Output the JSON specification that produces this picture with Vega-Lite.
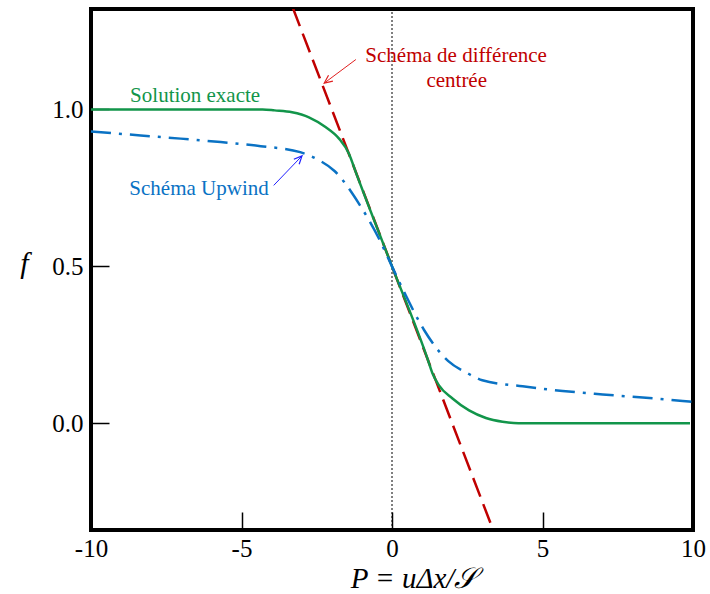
{
  "$schema": "https://vega.github.io/schema/vega-lite/v6.json",
  "width": 602,
  "height": 521,
  "autosize": {"type": "none"},
  "padding": {"left": 91, "top": 9, "right": 17, "bottom": 64},
  "background": "white",
  "config": {
    "view": {"stroke": "black", "strokeWidth": 4},
    "font": "Liberation Serif",
    "axis": {"grid": false, "domain": false, "labelFont": "Liberation Serif", "titleFont": "Liberation Serif", "labelColor": "black", "titleColor": "black", "tickColor": "black", "tickWidth": 1.5}
  },
  "datasets": {
    "centre": [
      {"P": -3.3, "f": 1.325},
      {"P": 3.36, "f": -0.34}
    ],
    "exacte": [
      {"P": -10, "f": 1.0},
      {"P": -4.3, "f": 1.0},
      {"P": -3.9, "f": 0.997},
      {"P": -3.32, "f": 0.991},
      {"P": -2.76, "f": 0.975},
      {"P": -2.21, "f": 0.944},
      {"P": -1.76, "f": 0.907},
      {"P": -1.43, "f": 0.859},
      {"P": -1.21, "f": 0.802},
      {"P": 0, "f": 0.5},
      {"P": 1.2, "f": 0.2},
      {"P": 1.34, "f": 0.16},
      {"P": 1.56, "f": 0.121},
      {"P": 2.01, "f": 0.079},
      {"P": 2.56, "f": 0.041},
      {"P": 3.12, "f": 0.017},
      {"P": 3.67, "f": 0.005},
      {"P": 4.2, "f": 0.0},
      {"P": 9.9, "f": 0.0}
    ],
    "upwind": [
      {"P": -10, "f": 0.93},
      {"P": -8.35, "f": 0.917},
      {"P": -7.02, "f": 0.907},
      {"P": -5.69, "f": 0.896},
      {"P": -4.36, "f": 0.883},
      {"P": -3.05, "f": 0.864},
      {"P": -2.5, "f": 0.842},
      {"P": -1.9, "f": 0.803},
      {"P": -1.1, "f": 0.70},
      {"P": -0.43, "f": 0.588},
      {"P": 0, "f": 0.5},
      {"P": 0.43, "f": 0.413},
      {"P": 1.06, "f": 0.298},
      {"P": 1.87, "f": 0.198},
      {"P": 2.5, "f": 0.16},
      {"P": 3.0, "f": 0.137},
      {"P": 4.34, "f": 0.118},
      {"P": 5.67, "f": 0.103},
      {"P": 7.0, "f": 0.092},
      {"P": 8.33, "f": 0.082},
      {"P": 9.66, "f": 0.071},
      {"P": 10, "f": 0.068}
    ],
    "axe": [{"P": 0, "f": -0.34, "f2": 1.32}],
    "flecheBleue": [{"P": -3.93, "f": 0.758, "P2": -2.99, "f2": 0.852}],
    "flecheRouge": [{"P": -1.2, "f": 1.159, "P2": -2.25, "f2": 1.084}],
    "pointeBleue": [{"P": -2.99, "f": 0.852}],
    "pointeRouge": [{"P": -2.25, "f": 1.084}],
    "texteVert": [{"P": -6.54, "f": 1.025, "label": "Solution exacte"}],
    "texteBleu": [{"P": -6.41, "f": 0.726, "label": "Schéma Upwind"}],
    "texteRouge": [
      {"P": 2.13, "f": 1.151, "label": "Schéma de différence"},
      {"P": 2.15, "f": 1.073, "label": "centrée"}
    ]
  },
  "encoding": {
    "x": {
      "field": "P", "type": "quantitative",
      "scale": {"domain": [-10, 10], "nice": false, "zero": false},
      "axis": {
        "values": [-10, -5, 0, 5, 10], "labelExpr": "'' + datum.value",
        "tickSize": -18, "labelPadding": 24, "labelFontSize": 25, "labelFont": "Liberation Serif",
        "labelOverlap": false, "labelBound": false, "labelFlush": false,
        "title": "P = uΔx/𝒮", "titleFont": "Liberation Serif", "titleFontStyle": "italic", "titleFontSize": 29, "titleFontWeight": "normal",
        "titleX": 322, "titleY": 57, "titleBaseline": "alphabetic", "titleAlign": "center"
      }
    },
    "y": {
      "field": "f", "type": "quantitative",
      "scale": {"domain": [-0.34, 1.32], "nice": false, "zero": false},
      "axis": {
        "values": [0, 0.5, 1], "format": ".1f",
        "tickSize": -18, "labelPadding": 26, "labelFontSize": 25, "labelFont": "Liberation Serif",
        "labelOverlap": false,
        "title": "f", "titleFont": "Liberation Serif", "titleFontSize": 30, "titleFontStyle": "italic", "titleFontWeight": "normal",
        "titleAngle": 0, "titleX": -67, "titleY": 263, "titleBaseline": "alphabetic", "titleAlign": "center"
      }
    }
  },
  "layer": [
    {
      "data": {"name": "axe"},
      "mark": {"type": "rule", "color": "black", "strokeWidth": 1, "strokeDash": [2, 2]},
      "encoding": {"y2": {"field": "f2"}}
    },
    {
      "data": {"name": "centre"},
      "mark": {"type": "line", "color": "#c00000", "strokeWidth": 2.5, "strokeDash": [20, 8], "clip": true},
      "encoding": {}
    },
    {
      "data": {"name": "exacte"},
      "mark": {"type": "line", "color": "#12954a", "strokeWidth": 2.5, "interpolate": "monotone"},
      "encoding": {}
    },
    {
      "data": {"name": "upwind"},
      "mark": {"type": "line", "color": "#0a72c4", "strokeWidth": 2.5, "strokeDash": [20, 8, 3, 8], "interpolate": "monotone"},
      "encoding": {}
    },
    {
      "data": {"name": "flecheBleue"},
      "mark": {"type": "rule", "color": "#2020ff", "strokeWidth": 1},
      "encoding": {"x2": {"field": "P2"}, "y2": {"field": "f2"}}
    },
    {
      "data": {"name": "flecheRouge"},
      "mark": {"type": "rule", "color": "#e02020", "strokeWidth": 1},
      "encoding": {"x2": {"field": "P2"}, "y2": {"field": "f2"}}
    },
    {
      "data": {"name": "pointeBleue"},
      "mark": {"type": "point", "shape": "M-0.45,1L0,0L0.45,1", "filled": false, "stroke": "#2020ff", "strokeWidth": 1.2, "size": 260, "angle": 43, "opacity": 1},
      "encoding": {}
    },
    {
      "data": {"name": "pointeRouge"},
      "mark": {"type": "point", "shape": "M-0.45,1L0,0L0.45,1", "filled": false, "stroke": "#e02020", "strokeWidth": 1.2, "size": 260, "angle": 233, "opacity": 1},
      "encoding": {}
    },
    {
      "data": {"name": "texteVert"},
      "mark": {"type": "text", "color": "#12954a", "font": "Liberation Serif", "fontSize": 21, "align": "center", "baseline": "alphabetic"},
      "encoding": {"text": {"field": "label"}}
    },
    {
      "data": {"name": "texteBleu"},
      "mark": {"type": "text", "color": "#0a72c4", "font": "Liberation Serif", "fontSize": 21, "align": "center", "baseline": "alphabetic"},
      "encoding": {"text": {"field": "label"}}
    },
    {
      "data": {"name": "texteRouge"},
      "mark": {"type": "text", "color": "#c00000", "font": "Liberation Serif", "fontSize": 21, "align": "center", "baseline": "alphabetic"},
      "encoding": {"text": {"field": "label"}}
    }
  ]
}
